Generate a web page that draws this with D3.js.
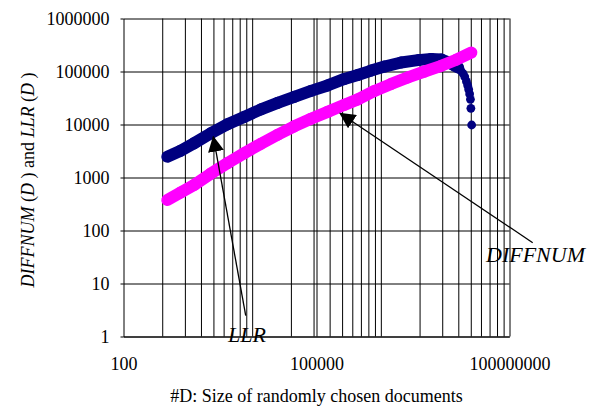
<!DOCTYPE html>
<html>
<head>
<meta charset="utf-8">
<script src="https://cdn.jsdelivr.net/npm/d3@7"></script>
<style>
  body { margin: 0; background: #fff; }
  svg { display: block; font-family: "Liberation Serif", "Times New Roman", serif; }
  .tick text { font-size: 18px; fill: #000; font-family: "Liberation Serif", "Times New Roman", serif; }
  .grid line { stroke: #000; stroke-width: 1; }
  .grid path { display: none; }
</style>
</head>
<body>
<div id="chart"></div>
<script>
var svgWidth = 596;
var svgHeight = 412;

var margin = {
  top: 18.5,
  right: 86.5,
  bottom: 75.5,
  left: 123.5
};

var width = svgWidth - margin.left - margin.right;
var height = svgHeight - margin.top - margin.bottom;

// LLR(D)
var llrDocs = [480, 773, 1250, 2270, 4130, 7490, 13700, 24900, 45100, 82100,
  149000, 271000, 439000, 707000, 1140000, 2070000, 3780000, 6080000, 8710000, 12500000,
  13900000, 15900000, 17500000, 19000000, 20200000, 21400000, 22400000, 23200000, 24000000, 24700000,
  25100000, 25800000];
var llrValues = [2470, 3200, 4430, 6830, 10100, 13900, 19300, 25600, 33200, 43000,
  54600, 72300, 86000, 104000, 124000, 148000, 164000, 173000, 168000, 141000,
  130000, 119000, 104000, 91700, 78800, 64900, 54600, 45900, 37800, 29800,
  20200, 9790];

// DIFFNUM(D)
var diffDocs = [480, 773, 1250, 2270, 4130, 7490, 13700, 24900, 45100, 82100,
  149000, 271000, 439000, 796000, 1450000, 2640000, 4780000, 8710000, 14900000, 25600000];
var diffValues = [376, 520, 720, 1180, 1870, 2870, 4340, 6400, 9250, 12800,
  17300, 23500, 29800, 43000, 58200, 77200, 100000, 128000, 167000, 228000];

// axis ticks
var xTickValues = [100, 100000, 100000000];
var xGridValues = [400, 900, 1600, 2500, 3600, 4900, 6400, 8100, 10000, 40000, 90000,
  100000, 160000, 250000, 360000, 490000, 640000, 810000, 1000000,
  4000000, 9000000, 16000000, 25000000, 36000000, 49000000, 64000000, 81000000, 100000000];
var yTickValues = [1, 10, 100, 1000, 10000, 100000, 1000000];

// annotations (data units)
var annoLabels = ["LLR", "DIFFNUM"];
var annoTipX = [2490, 232000];
var annoTipY = [5890, 16300];
var annoTailX = [7940, 229500000];
var annoTailY = [2.47, 58.9];
var annoTextX = [8310, 253600000];
var annoTextY = [0.777, 25.8];

var svg = d3.select("#chart")
  .append("svg")
  .attr("width", svgWidth)
  .attr("height", svgHeight);

svg.append("defs").append("marker")
  .attr("id", "arrow")
  .attr("markerUnits", "userSpaceOnUse")
  .attr("viewBox", "0 -8 16 16")
  .attr("refX", 15)
  .attr("refY", 0)
  .attr("markerWidth", 16)
  .attr("markerHeight", 16)
  .attr("orient", "auto")
  .append("path")
  .attr("d", "M0,-8L16,0L0,8Z")
  .attr("fill", "#000");

var chartGroup = svg.append("g")
  .attr("transform", `translate(${margin.left}, ${margin.top})`);

var xScale = d3.scaleLog().domain([100, 100000000]).range([0, width]);
var yScale = d3.scaleLog().domain([1, 1000000]).range([height, 0]);

// vertical gridlines
chartGroup.append("g")
  .attr("class", "grid")
  .call(d3.axisBottom(xScale).tickValues(xGridValues).tickSize(height).tickFormat(""));

// horizontal gridlines
chartGroup.append("g")
  .attr("class", "grid")
  .call(d3.axisLeft(yScale).tickValues(yTickValues).tickSize(-width).tickFormat(""));

// y axis
var leftAxis = d3.axisLeft(yScale)
  .tickValues(yTickValues)
  .tickSize(3)
  .tickSizeOuter(0)
  .tickPadding(11)
  .tickFormat(d3.format("d"));
chartGroup.append("g").call(leftAxis);

// x axis
var bottomAxis = d3.axisBottom(xScale)
  .tickValues(xTickValues)
  .tickSize(0)
  .tickSizeOuter(0)
  .tickPadding(20.5)
  .tickFormat(d3.format("d"));
chartGroup.append("g")
  .attr("transform", `translate(0, ${height})`)
  .call(bottomAxis);

chartGroup.selectAll(".domain").attr("stroke", "#000");

// draw a dotted series: thick band where points are dense, single dots elsewhere
function drawSeries(docs, values, color) {
  var pts = docs.map(function(d, i) { return [xScale(d), yScale(values[i])]; });
  var segs = [];
  for (var i = 0; i < pts.length - 1; i++) {
    var dx = pts[i + 1][0] - pts[i][0];
    var dy = pts[i + 1][1] - pts[i][1];
    if (Math.abs(dy) < Math.abs(dx)) segs.push([pts[i], pts[i + 1]]);
  }
  var g = chartGroup.append("g");
  g.selectAll("line")
    .data(segs)
    .enter()
    .append("line")
    .attr("x1", d => d[0][0])
    .attr("y1", d => d[0][1])
    .attr("x2", d => d[1][0])
    .attr("y2", d => d[1][1])
    .attr("stroke", color)
    .attr("stroke-width", 12)
    .attr("stroke-linecap", "round");
  g.selectAll("circle")
    .data(pts)
    .enter()
    .append("circle")
    .attr("cx", d => d[0])
    .attr("cy", d => d[1])
    .attr("r", 4.4)
    .attr("fill", color);
}

drawSeries(llrDocs, llrValues, "#000080");
drawSeries(diffDocs, diffValues, "#FF00FF");

// annotation arrows
annoLabels.forEach(function(label, i) {
  chartGroup.append("line")
    .attr("x1", xScale(annoTailX[i]))
    .attr("y1", yScale(annoTailY[i]))
    .attr("x2", xScale(annoTipX[i]))
    .attr("y2", yScale(annoTipY[i]))
    .attr("stroke", "#000")
    .attr("stroke-width", 1.3)
    .attr("marker-end", "url(#arrow)");
  chartGroup.append("text")
    .attr("x", xScale(annoTextX[i]))
    .attr("y", yScale(annoTextY[i]))
    .attr("text-anchor", "middle")
    .attr("font-size", 22)
    .attr("font-style", "italic")
    .text(label);
});

// axis titles
svg.append("text")
  .attr("x", margin.left + width / 2)
  .attr("y", 401.7)
  .attr("text-anchor", "middle")
  .attr("font-size", 18)
  .text("#D: Size of randomly chosen documents");

var yTitle = svg.append("text")
  .attr("transform", "translate(34, 180) rotate(-90)")
  .attr("text-anchor", "middle")
  .attr("font-size", 18)
  .style("white-space", "pre");
var yParts = [["DIFFNUM", true], [" (", false], ["D", true], [" ) and ", false],
  ["LLR", true], [" (", false], ["D", true], [" )", false]];
yParts.forEach(function(p) {
  yTitle.append("tspan")
    .attr("font-style", p[1] ? "italic" : "normal")
    .text(p[0]);
});
</script>
</body>
</html>
